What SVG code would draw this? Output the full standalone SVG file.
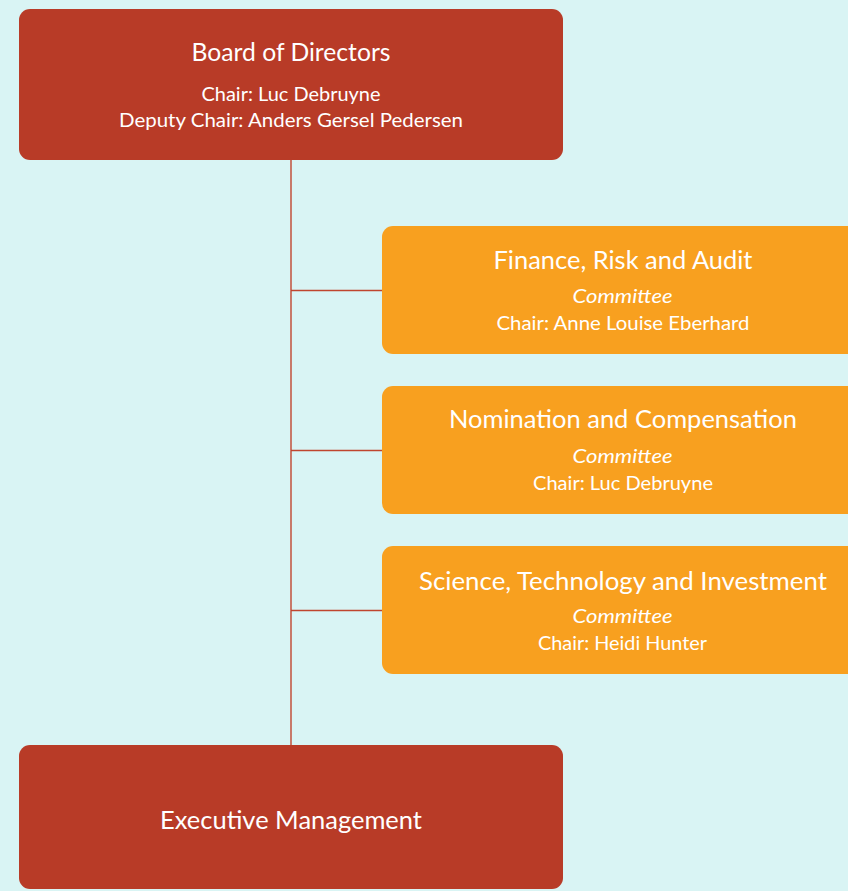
<svg xmlns="http://www.w3.org/2000/svg" width="848" height="891" viewBox="0 0 848 891">
<style>
.red{fill:#b83b27}
.org{fill:#f8a01f}
.t{font-family:Lato,"Open Sans","Liberation Sans",sans-serif;fill:#ffffff;text-anchor:middle;font-weight:400}
.h{font-size:25px}
.s{font-size:19.5px}
.i{font-size:19.5px;font-style:italic}
.ln{stroke:#c0452e;stroke-width:1.4;fill:none}
</style>
<rect x="0" y="0" width="848" height="891" fill="#d9f4f4"/>
<g id="connectors">
<line class="ln" x1="291" y1="160" x2="291" y2="746"/>
<line class="ln" x1="291" y1="290.5" x2="383" y2="290.5"/>
<line class="ln" x1="291" y1="450.5" x2="383" y2="450.5"/>
<line class="ln" x1="291" y1="610.5" x2="383" y2="610.5"/>
</g>
<g id="board">
<rect class="red" x="19" y="9" width="544" height="151" rx="11"/>
<text class="t h" x="291" y="61" textLength="199" lengthAdjust="spacingAndGlyphs">Board of Directors</text>
<text class="t s" x="291" y="101" textLength="179" lengthAdjust="spacingAndGlyphs">Chair: Luc Debruyne</text>
<text class="t s" x="291" y="126.5" textLength="344" lengthAdjust="spacingAndGlyphs">Deputy Chair: Anders Gersel Pedersen</text>
</g>
<g id="finance">
<rect class="org" x="382" y="226" width="480" height="128" rx="11"/>
<text class="t h" x="623" y="268.5" textLength="259" lengthAdjust="spacingAndGlyphs">Finance, Risk and Audit</text>
<text class="t i" x="622.5" y="303" textLength="100" lengthAdjust="spacingAndGlyphs">Committee</text>
<text class="t s" x="623" y="329.5" textLength="253" lengthAdjust="spacingAndGlyphs">Chair: Anne Louise Eberhard</text>
</g>
<g id="nomination">
<rect class="org" x="382" y="386" width="480" height="128" rx="11"/>
<text class="t h" x="623" y="428" textLength="348" lengthAdjust="spacingAndGlyphs">Nomination and Compensation</text>
<text class="t i" x="622.5" y="463" textLength="100" lengthAdjust="spacingAndGlyphs">Committee</text>
<text class="t s" x="623" y="489.5" textLength="180" lengthAdjust="spacingAndGlyphs">Chair: Luc Debruyne</text>
</g>
<g id="science">
<rect class="org" x="382" y="546" width="480" height="128" rx="11"/>
<text class="t h" x="623" y="590" textLength="408" lengthAdjust="spacingAndGlyphs">Science, Technology and Investment</text>
<text class="t i" x="622.5" y="623" textLength="100" lengthAdjust="spacingAndGlyphs">Committee</text>
<text class="t s" x="622.5" y="650" textLength="169" lengthAdjust="spacingAndGlyphs">Chair: Heidi Hunter</text>
</g>
<g id="executive">
<rect class="red" x="19" y="745" width="544" height="144" rx="11"/>
<text class="t h" x="291" y="828.5" textLength="262" lengthAdjust="spacingAndGlyphs">Executive Management</text>
</g>
</svg>
